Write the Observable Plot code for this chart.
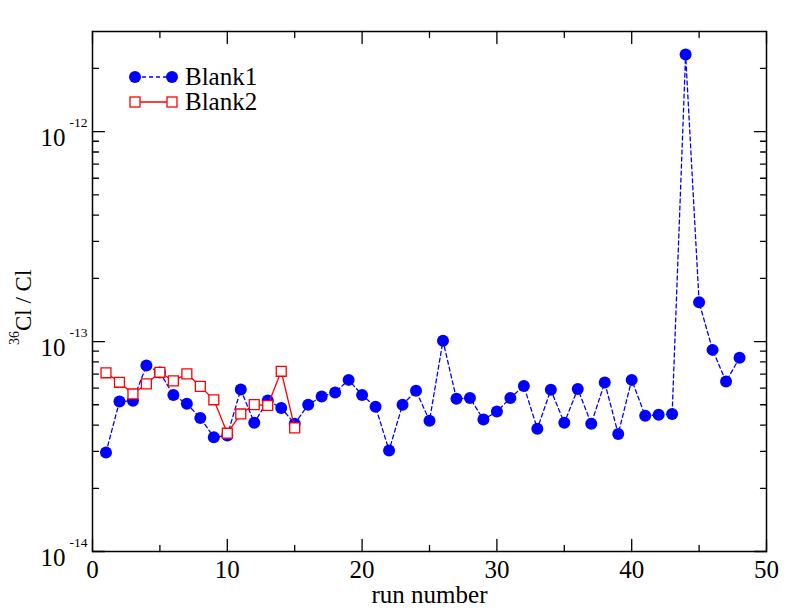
<!DOCTYPE html>
<html>
<head>
<meta charset="utf-8">
<script src="https://cdn.jsdelivr.net/npm/d3@7"></script>
<script src="https://cdn.jsdelivr.net/npm/@observablehq/plot@0.6"></script>
<style>
  html, body { margin: 0; padding: 0; background: #fff; }
  svg text { font-family: "Liberation Serif", "Times New Roman", serif !important; }
</style>
</head>
<body>
<div id="chart"></div>
<script>
// ---- data ----
const runs1 = [1,2,3,4,5,6,7,8,9,10,11,12,13,14,15,16,17,18,19,20,21,22,23,24,25,26,27,28,29,30,31,32,33,34,35,36,37,38,39,40,41,42,43,44,45,46,47,48];
const blank1 = [2.96e-14,5.18e-14,5.22e-14,7.69e-14,7.12e-14,5.57e-14,5.05e-14,4.33e-14,3.50e-14,3.57e-14,
                5.91e-14,4.10e-14,5.24e-14,4.83e-14,4.06e-14,5.00e-14,5.47e-14,5.72e-14,6.57e-14,5.57e-14,
                4.89e-14,3.03e-14,5.00e-14,5.83e-14,4.20e-14,1.01e-13,5.34e-14,5.39e-14,4.25e-14,4.64e-14,
                5.39e-14,6.15e-14,3.84e-14,5.89e-14,4.10e-14,5.95e-14,4.06e-14,6.38e-14,3.63e-14,6.57e-14,
                4.43e-14,4.48e-14,4.52e-14,2.33e-12,1.54e-13,9.13e-14,6.45e-14,8.37e-14];
const runs2 = [1,2,3,4,5,6,7,8,9,10,11,12,13,14,15];
const blank2 = [7.10e-14,6.40e-14,5.63e-14,6.29e-14,7.14e-14,6.50e-14,7.02e-14,6.12e-14,5.28e-14,3.66e-14,
                4.52e-14,5.01e-14,4.96e-14,7.22e-14,3.88e-14];
const seriesNames = ["Blank1", "Blank2"];
const xMajor = [0,10,20,30,40,50];
const xMinor = [5,15,25,35,45];
const yMajor = [1e-14,1e-13,1e-12];
const yMinor = [2e-14,3e-14,4e-14,5e-14,6e-14,7e-14,8e-14,9e-14,
                2e-13,3e-13,4e-13,5e-13,6e-13,7e-13,8e-13,9e-13,2e-12];
const xLabel = "run number";

const d1 = runs1.map((r, i) => ({run: r, v: blank1[i]}));
const d2 = runs2.map((r, i) => ({run: r, v: blank2[i]}));

const FONT = '"Liberation Serif", "Times New Roman", serif';
const tickShape = {draw(ctx, l) { ctx.moveTo(0, 0); ctx.lineTo(0, -l); }};
const tk = (data, opts) => Plot.vector(data, {shape: tickShape, anchor: "start", stroke: "black", strokeWidth: 1.3, ...opts});

const svg = Plot.plot({
  width: 792, height: 612,
  marginLeft: 92, marginRight: 26, marginTop: 31, marginBottom: 61,
  style: {fontFamily: FONT, background: "white", color: "black"},
  x: {domain: [0, 50], axis: null},
  y: {type: "log", domain: [1e-14, 3e-12], axis: null},
  marks: [
    // ticks (inward on all sides)
    tk(xMajor, {x: d => d, y: 1e-14, length: 12, rotate: 0}),
    tk(xMinor, {x: d => d, y: 1e-14, length: 6, rotate: 0}),
    tk(xMajor, {x: d => d, y: 3e-12, length: 12, rotate: 180}),
    tk(xMinor, {x: d => d, y: 3e-12, length: 6, rotate: 180}),
    tk(yMajor, {x: 0, y: d => d, length: 12, rotate: 90}),
    tk(yMinor, {x: 0, y: d => d, length: 6, rotate: 90}),
    tk(yMajor, {x: 50, y: d => d, length: 12, rotate: -90}),
    tk(yMinor, {x: 50, y: d => d, length: 6, rotate: -90}),
    // x tick labels
    Plot.text(xMajor, {x: d => d, frameAnchor: "bottom", text: d => String(d), lineAnchor: "bottom", dy: 26, fontSize: 25, fill: "black", fontFamily: FONT}),
    // y tick labels 10^n
    Plot.text(yMajor, {y: d => d, frameAnchor: "left", text: () => "10", textAnchor: "end", lineAnchor: "bottom", dx: -27, dy: 14, fontSize: 25, fill: "black", fontFamily: FONT}),
    Plot.text(yMajor, {y: d => d, frameAnchor: "left", text: d => String(Math.round(Math.log10(d))), textAnchor: "start", lineAnchor: "bottom", dx: -23, dy: -5, fontSize: 13.5, fill: "black", fontFamily: FONT}),
    // x label
    Plot.text([xLabel], {frameAnchor: "bottom", text: d => d, lineAnchor: "bottom", dy: 51, fontSize: 25, fill: "black", fontFamily: FONT}),
    // data
    Plot.line(d1, {x: "run", y: "v", stroke: "#0000ff", strokeWidth: 1.3, strokeDasharray: "4,3"}),
    Plot.dot(d1, {x: "run", y: "v", r: 6, fill: "#0000ff"}),
    Plot.line(d2, {x: "run", y: "v", stroke: "#ff0000", strokeWidth: 1.3}),
    Plot.dot(d2, {x: "run", y: "v", symbol: "square", r: 5.6, fill: "white", stroke: "#ff0000", strokeWidth: 1.3}),
    Plot.frame({stroke: "black", strokeWidth: 1.5})
  ]
});

const s = d3.select(svg);
// y-axis title with superscript
const yt = s.append("text")
  .attr("transform", "translate(31,345) rotate(-90)")
  .attr("text-anchor", "start")
  .attr("font-family", FONT).attr("fill", "black");
yt.append("tspan").attr("font-size", 14).attr("dy", -12).text("36");
yt.append("tspan").attr("font-size", 23).attr("dy", 12).text("Cl / Cl");

// legend
const lg = s.append("g").attr("font-family", FONT).attr("text-anchor", "start");
lg.append("line").attr("x1", 135).attr("x2", 172).attr("y1", 77).attr("y2", 77)
  .attr("stroke", "#0000ff").attr("stroke-width", 1.3).attr("stroke-dasharray", "4,3");
[135, 172].forEach(x => lg.append("circle").attr("cx", x).attr("cy", 77).attr("r", 6).attr("fill", "#0000ff"));
lg.append("text").attr("x", 185).attr("y", 85).attr("font-size", 25).attr("fill", "black").text(seriesNames[0]);
lg.append("line").attr("x1", 135).attr("x2", 172).attr("y1", 102).attr("y2", 102)
  .attr("stroke", "#ff0000").attr("stroke-width", 1.3);
[135, 172].forEach(x => lg.append("rect").attr("x", x - 5).attr("y", 97).attr("width", 10).attr("height", 10)
  .attr("fill", "white").attr("stroke", "#ff0000").attr("stroke-width", 1.3));
lg.append("text").attr("x", 185).attr("y", 110).attr("font-size", 25).attr("fill", "black").text(seriesNames[1]);

document.getElementById("chart").appendChild(svg);
</script>
</body>
</html>
